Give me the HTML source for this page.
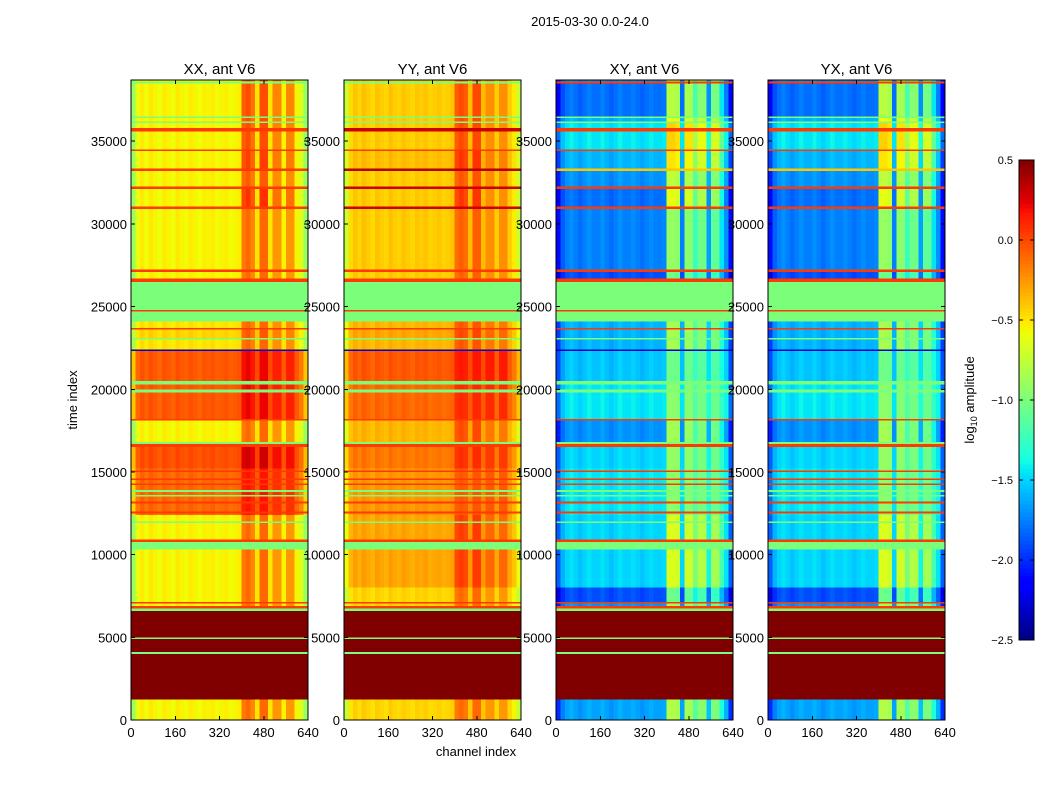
<!DOCTYPE html>
<html><head><meta charset="utf-8"><style>
body{margin:0;background:#fff;}
svg text{font-family:"Liberation Sans",sans-serif;fill:#000;}
</style></head><body>
<svg id="fig" width="1050" height="800" xmlns="http://www.w3.org/2000/svg" shape-rendering="crispEdges">
<text x="590" y="26" font-size="13" text-anchor="middle">2015-03-30 0.0-24.0</text>
<text transform="translate(77,400) rotate(-90)" font-size="13" text-anchor="middle">time index</text>
<text x="476" y="756" font-size="13" text-anchor="middle">channel index</text>
<text transform="translate(974,400) rotate(-90)" font-size="13" text-anchor="middle">log<tspan font-size="9" dy="3">10</tspan><tspan dy="-3"> amplitude</tspan></text>
<g id="panels"></g>
<g id="cbar"></g>
</svg>
<script>
const panelTitles = ["XX, ant V6","YY, ant V6","XY, ant V6","YX, ant V6"];
const bandStart = [0,1250,4000,4100,4900,5000,6600,6750,6900,7050,7150,8000,10300,10750,10900,11900,12000,12400,12500,12600,13100,13200,13500,13600,13800,13900,14200,14300,14500,14600,15000,15100,15200,16500,16700,16800,18100,18200,19800,20000,20300,20500,22300,22400,23000,23100,23600,23700,24100,24700,24800,26500,26700,27100,27250,30900,31050,32100,32250,33200,33350,34400,34500,35600,35800,36100,36200,36400,36500,38500,38600];
const bandEnd   = [1250,4000,4100,4900,5000,6600,6750,6900,7050,7150,8000,10300,10750,10900,11900,12000,12400,12500,12600,13100,13200,13500,13600,13800,13900,14200,14300,14500,14600,15000,15100,15200,16500,16700,16800,18100,18200,19800,20000,20300,20500,22300,22400,23000,23100,23600,23700,24100,24700,24800,26500,26700,27100,27250,30900,31050,32100,32250,33200,33350,34400,34500,35600,35800,36100,36200,36400,36500,38500,38600,38700];
const bandKind  = ["d","c","c","c","c","c","c","c","d","c","d","d","c","c","d","c","d","d","c","d","c","d","c","d","c","d","c","d","c","d","c","d","d","c","c","d","c","d","c","d","c","d","c","d","c","d","c","d","c","c","c","c","d","c","d","c","d","c","d","c","d","c","d","c","d","c","d","c","d","c","d"];
const levelXX = [-0.55,0.5,-1,0.5,-1,0.5,-1,0.05,-0.55,0.05,-0.55,-0.55,-1,0.05,-0.55,-1,-0.55,-0.1,0.05,-0.1,0.05,-0.1,-1,-0.1,-1,-0.1,0.05,-0.1,0.05,-0.1,0.05,-0.1,-0.02,0.05,-1,-0.55,0.05,-0.05,-1,-0.05,-1,-0.05,-2.3,-0.5,-1,-0.45,0.05,-0.5,-1,0.05,-1,0.05,-0.55,0.05,-0.55,0.05,-0.55,0.05,-0.55,0.05,-0.55,0.05,-0.55,0.05,-0.55,-1,-0.55,-1,-0.55,-1,-0.55];
const levelYY = [-0.45,0.5,-1,0.5,-1,0.5,-1,0.05,-0.45,0.05,-0.45,-0.3,-1,0.05,-0.3,-1,-0.3,-0.25,0.05,-0.25,0.05,-0.25,-1,-0.25,-1,-0.25,0.05,-0.25,0.05,-0.25,0.05,-0.25,-0.15,0.05,-1,-0.35,0.05,-0.1,-1,-0.1,-1,-0.05,-2.3,-0.35,-1,-0.3,0.05,-0.35,-1,0.05,-1,0.05,-0.42,0.05,-0.42,0.3,-0.42,0.3,-0.42,0.35,-0.38,0.05,-0.42,0.3,-0.42,-1,-0.42,-1,-0.42,-1,-0.42];
const levelXY = [-1.65,0.5,-1,0.5,-1,0.5,-1,0.05,-1.7,0.05,-1.9,-1.5,-1,0.05,-1.5,-1,-1.5,-1.45,0.05,-1.45,0.05,-1.45,-1,-1.45,-1,-1.45,0.05,-1.45,0.05,-1.45,0.05,-1.45,-1.5,0.05,-1,-1.7,0.05,-1.45,-1,-1.45,-1,-1.55,-2.3,-1.6,-1,-1.6,0.05,-1.6,-1,0.05,-1,0.05,-1.9,0.05,-1.75,0.05,-1.8,0.05,-1.7,-0.4,-1.6,0.05,-1.45,0.05,-1.45,-1,-1.6,-1,-1.8,0.05,-1.7];
const rfiGain = [1,1,1,1,1,1,1,1,1,1,1,1,1,1,1,1,1,0.6,1,0.6,1,0.6,1,0.6,1,0.6,1,0.6,1,0.6,1,0.6,0.7,1,1,1,1,0.6,1,0.6,1,0.6,1,0.9,1,0.9,1,0.9,1,1,1,1,1,1,1,1,1.4,1,1.1,1,1.3,1,1.2,1,1.2,1,1.2,1,1.2,1,1.1];
const profileXX = [-0.35,-0.05,0.03,-0.03,0.04,0,-0.04,0.03,0,-0.03,0.04,0,-0.02,0.03,0,-0.03,0.02,0,0.03,-0.02,0,0.02,-0.02,0,0.02,0.4,0.45,0.35,0.05,0.45,0.45,0.05,0.3,0.3,0.0,0.3,0.3,0.0,-0.1,-0.35];
const profileYY = [-0.3,-0.05,0.03,-0.03,0.04,0,-0.04,0.03,0,-0.03,0.04,0,-0.02,0.03,0,-0.03,0.02,0,0.03,-0.02,0,0.02,-0.02,0,0.02,0.3,0.35,0.3,0.05,0.35,0.35,0.05,0.2,0.2,0.0,0.2,0.2,0.0,-0.1,-0.3];
const profileXY = [-0.35,-0.1,0,0.05,0,-0.05,0,0.05,0,0,0.05,0,-0.05,0,0.05,0,0,0.04,0,-0.04,0,0.04,0,0,0.02,0.85,0.85,0.8,0.0,0.8,0.8,0.5,0.7,0.7,0.1,0.65,0.65,0.3,0.05,-0.35];
const yTicks = [0,5000,10000,15000,20000,25000,30000,35000];
const xTicks = [0,160,320,480,640];
const cbarTicks = [0.5,0.0,-0.5,-1.0,-1.5,-2.0,-2.5];

const NS="http://www.w3.org/2000/svg";
const panelX=[131,344,556,768], PW=177, PT=80, PB=720, TMAX=38700, CMAX=640;
const VMIN=-2.5, VMAX=0.5;
function jet(v){
  let x=(v-VMIN)/(VMAX-VMIN); x=Math.max(0,Math.min(1,x));
  const c=(a)=>Math.max(0,Math.min(1,a));
  let r = x<0.35?0:x<0.66?(x-0.35)/0.31:x<0.89?1:1-(x-0.89)/0.11*0.5;
  let g = x<0.125?0:x<0.375?(x-0.125)/0.25:x<0.64?1:x<0.91?1-(x-0.64)/0.27:0;
  let b = x<0.11?0.5+x/0.11*0.5:x<0.34?1:x<0.65?1-(x-0.34)/0.31:0;
  return `rgb(${Math.round(c(r)*255)},${Math.round(c(g)*255)},${Math.round(c(b)*255)})`;
}
function el(tag,attrs,parent){const e=document.createElementNS(NS,tag);for(const k in attrs)e.setAttribute(k,attrs[k]);parent.appendChild(e);return e;}
const levels=[levelXX,levelYY,levelXY,levelXY];
const profiles=[profileXX,profileYY,profileXY,profileXY];
const panels=document.getElementById('panels');
for(let p=0;p<4;p++){
  const x0=panelX[p];
  const sx=c=>x0+c/CMAX*PW;
  const sy=t=>PB-t/TMAX*(PB-PT);
  const g=el('g',{},panels);
  
  
  const prof=profiles[p], seg=CMAX/prof.length;
  for(let b=0;b<bandStart.length;b++){
    const y1=sy(bandEnd[b]), y0=sy(bandStart[b]);
    const lv=levels[p][b];
    if(bandKind[b]==='c'){
      const r=el('rect',{x:sx(0),y:y1,width:PW,height:Math.max(0.8,y0-y1),fill:jet(lv)},g);
      
      
    } else {
      for(let s=0;s<prof.length;s++){
        const off=prof[s]>0.2?prof[s]*rfiGain[b]:prof[s];
        const r=el('rect',{x:sx(s*seg),y:y1,width:PW/prof.length+0.5,height:Math.max(0.8,y0-y1),fill:jet(lv+off)},g);
        
        
      }
    }
  }
  const fr=el('rect',{x:x0,y:PT,width:PW,height:PB-PT,fill:'none',stroke:'#000','stroke-width':1},g);
  
  
  const tt=el('text',{x:x0+PW/2,y:74,'font-size':15,'text-anchor':'middle'},g);
  tt.textContent=panelTitles[p];
  
  
  for(const t of yTicks){
    const y=sy(t);
    el('line',{x1:x0,x2:x0+4,y1:y,y2:y,stroke:'#000'},g);
    el('line',{x1:x0+PW-4,x2:x0+PW,y1:y,y2:y,stroke:'#000'},g);
    const l=el('text',{x:x0-4,y:y+5,'font-size':13,'text-anchor':'end'},g);
    l.textContent=t;
    
    
  }
  for(const c of xTicks){
    const x=sx(c);
    el('line',{x1:x,x2:x,y1:PB,y2:PB-4,stroke:'#000'},g);
    el('line',{x1:x,x2:x,y1:PT,y2:PT+4,stroke:'#000'},g);
    const l=el('text',{x:x,y:737,'font-size':13,'text-anchor':'middle'},g);
    l.textContent=c;
    
    
  }
}
// colorbar
const cb=document.getElementById('cbar');
const CX=1019,CW=15,CT=160,CB=640;
const cy=v=>CB-(v-VMIN)/(VMAX-VMIN)*(CB-CT);
for(let i=0;i<120;i++){
  const v0=VMIN+i*(VMAX-VMIN)/120, v1=VMIN+(i+1)*(VMAX-VMIN)/120;
  const r=el('rect',{x:CX,y:cy(v1),width:CW,height:cy(v0)-cy(v1)+0.5,fill:jet((v0+v1)/2)},cb);
  
  
}
const cf=el('rect',{x:CX,y:CT,width:CW,height:CB-CT,fill:'none',stroke:'#000'},cb);


for(const v of cbarTicks){
  const y=cy(v);
  el('line',{x1:CX,x2:CX+4,y1:y,y2:y,stroke:'#000'},cb);
  el('line',{x1:CX+CW-4,x2:CX+CW,y1:y,y2:y,stroke:'#000'},cb);
  const l=el('text',{x:1013,y:y+4,'font-size':11,'text-anchor':'end'},cb);
  l.textContent=(v<0?'\u2212':'')+Math.abs(v).toFixed(1);
  
  
}
</script>
</body></html>
